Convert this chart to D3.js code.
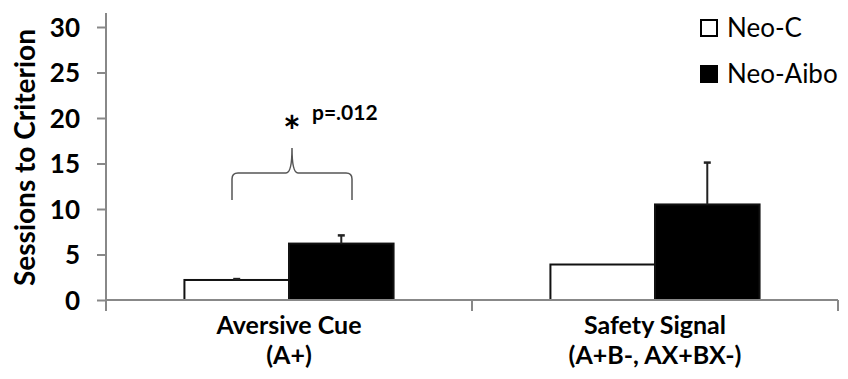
<!DOCTYPE html>
<html>
<head>
<meta charset="utf-8">
<script src="https://cdn.jsdelivr.net/npm/d3@7"></script>
<style>
  body { margin: 0; background: #fff; }
  text { font-family: Lato, 'Open Sans', sans-serif; }
</style>
</head>
<body>
<svg id="chart" width="848" height="379"></svg>
<script>
const categories = ['Aversive Cue', 'Safety Signal'];
const subLabels = ['(A+)', '(A+B-, AX+BX-)'];
const seriesNames = ['Neo-C', 'Neo-Aibo'];
const neoC = [2.2, 3.9];
const neoCErr = [0.1, 0];
const neoAibo = [6.2, 10.5];
const neoAiboErr = [0.9, 4.6];
const yTicks = [0, 5, 10, 15, 20, 25, 30];
const yLabel = 'Sessions to Criterion';
const sigText = 'p=.012';

const width = 848;
const height = 379;
const margin = { top: 27, right: 10, bottom: 79, left: 106 };
const innerWidth = width - margin.left - margin.right;
const innerHeight = height - margin.top - margin.bottom;

const svg = d3.select('#chart');
const g = svg.append('g')
  .attr('transform', `translate(${margin.left},${margin.top})`);

const xScale = d3.scaleBand()
  .domain(categories)
  .range([0, innerWidth]);

// two bars per category, gap width of 150% like the original
const xInner = d3.scaleBand()
  .domain(seriesNames)
  .range([0, xScale.bandwidth()])
  .paddingInner(0)
  .paddingOuter(0.75);

const yScale = d3.scaleLinear()
  .domain([0, 30])
  .range([innerHeight, 0]);

const rows = categories.map((c, i) => [
  { cat: c, key: 'Neo-C', value: neoC[i], err: neoCErr[i] },
  { cat: c, key: 'Neo-Aibo', value: neoAibo[i], err: neoAiboErr[i] },
]).flat();

// bars
g.selectAll('.bar')
  .data(rows)
  .join('rect')
  .attr('class', 'bar')
  .attr('x', (d) => xScale(d.cat) + xInner(d.key))
  .attr('y', (d) => yScale(d.value))
  .attr('width', xInner.bandwidth())
  .attr('height', (d) => innerHeight - yScale(d.value))
  .attr('fill', (d) => (d.key === 'Neo-C' ? '#fff' : '#000'))
  .attr('stroke', '#111')
  .attr('stroke-width', 2);

// error bars (upper half only)
const errG = g.selectAll('.err')
  .data(rows.filter((d) => d.err > 0))
  .join('g')
  .attr('class', 'err')
  .attr('transform', (d) => `translate(${xScale(d.cat) + xInner(d.key) + xInner.bandwidth() / 2},0)`);

errG.append('line')
  .attr('y1', (d) => yScale(d.value))
  .attr('y2', (d) => yScale(d.value + d.err))
  .attr('stroke', '#222')
  .attr('stroke-width', 2);

errG.append('line')
  .attr('x1', -3.5)
  .attr('x2', 3.5)
  .attr('y1', (d) => yScale(d.value + d.err))
  .attr('y2', (d) => yScale(d.value + d.err))
  .attr('stroke', '#222')
  .attr('stroke-width', 2.5);

// y axis
const yAxis = g.append('g')
  .call(d3.axisLeft(yScale).tickValues(yTicks).tickSize(9).tickSizeOuter(0));
yAxis.select('.domain').attr('stroke', '#888').attr('stroke-width', 2)
  .attr('d', `M0,${innerHeight}V-14`);
yAxis.selectAll('.tick line').attr('stroke', '#888').attr('stroke-width', 2);
yAxis.selectAll('.tick text')
  .attr('x', -26)
  .attr('dy', '0.36em')
  .style('font-size', '26px')
  .style('font-weight', 'bold')
  .attr('fill', '#000');

// x axis
const xAxis = g.append('g')
  .attr('transform', `translate(0,${innerHeight})`);
xAxis.append('line')
  .attr('x1', 0)
  .attr('x2', innerWidth)
  .attr('stroke', '#888')
  .attr('stroke-width', 2);
const bounds = categories.map((c) => xScale(c)).concat([innerWidth]);
xAxis.selectAll('.xtick')
  .data(bounds)
  .join('line')
  .attr('class', 'xtick')
  .attr('x1', (d) => d)
  .attr('x2', (d) => d)
  .attr('y1', 0)
  .attr('y2', 11)
  .attr('stroke', '#888')
  .attr('stroke-width', 2);

xAxis.selectAll('.cat-label')
  .data(categories)
  .join('text')
  .attr('class', 'cat-label')
  .attr('text-anchor', 'middle')
  .attr('x', (d) => xScale(d) + xScale.bandwidth() / 2)
  .attr('y', 34)
  .style('font-size', '25px')
  .style('font-weight', 'bold')
  .text((d) => d);

xAxis.selectAll('.cat-sub')
  .data(subLabels)
  .join('text')
  .attr('class', 'cat-sub')
  .attr('text-anchor', 'middle')
  .attr('x', (d, i) => xScale(categories[i]) + xScale.bandwidth() / 2)
  .attr('y', 64)
  .style('font-size', '25px')
  .style('font-weight', 'bold')
  .text((d) => d);

// y axis title
svg.append('text')
  .attr('transform', `translate(35,${margin.top + innerHeight / 2 - 6}) rotate(-90)`)
  .attr('text-anchor', 'middle')
  .style('font-size', '28px')
  .style('font-weight', 'bold')
  .text(yLabel);

// significance bracket over first category
const bx0 = 232 - margin.left;
const bx1 = 352 - margin.left;
const bmid = (bx0 + bx1) / 2;
const by0 = 200 - margin.top;
const by1 = 173 - margin.top;
const bpeak = 148 - margin.top;
const r = 6;
const bracket = d3.path();
bracket.moveTo(bx0, by0);
bracket.lineTo(bx0, by1 + r);
bracket.quadraticCurveTo(bx0, by1, bx0 + r, by1);
bracket.lineTo(bmid - r, by1);
bracket.quadraticCurveTo(bmid, by1, bmid, bpeak);
bracket.quadraticCurveTo(bmid, by1, bmid + r, by1);
bracket.lineTo(bx1 - r, by1);
bracket.quadraticCurveTo(bx1, by1, bx1, by1 + r);
bracket.lineTo(bx1, by0);
g.append('path')
  .attr('d', bracket.toString())
  .attr('fill', 'none')
  .attr('stroke', '#555')
  .attr('stroke-width', 1.5);

g.append('text')
  .attr('x', 292 - margin.left)
  .attr('y', 147 - margin.top)
  .attr('text-anchor', 'middle')
  .style('font-size', '42px')
  .style('font-weight', 'bold')
  .text('*');
g.append('text')
  .attr('x', 312 - margin.left)
  .attr('y', 120 - margin.top)
  .style('font-size', '21px')
  .style('font-weight', 'bold')
  .text(sigText);

// legend
const legend = svg.append('g')
  .attr('transform', 'translate(700,19)');
const legendItems = legend.selectAll('.legend-item')
  .data(seriesNames)
  .join('g')
  .attr('class', 'legend-item')
  .attr('transform', (d, i) => `translate(0,${i * 46})`);
legendItems.append('rect')
  .attr('x', 1)
  .attr('y', 1)
  .attr('width', 16)
  .attr('height', 16)
  .attr('fill', (d, i) => (i === 0 ? '#fff' : '#000'))
  .attr('stroke', '#000')
  .attr('stroke-width', 2);
legendItems.append('text')
  .attr('x', 27)
  .attr('y', 18)
  .style('font-size', '26px')
  .text((d) => d);
</script>
</body>
</html>
